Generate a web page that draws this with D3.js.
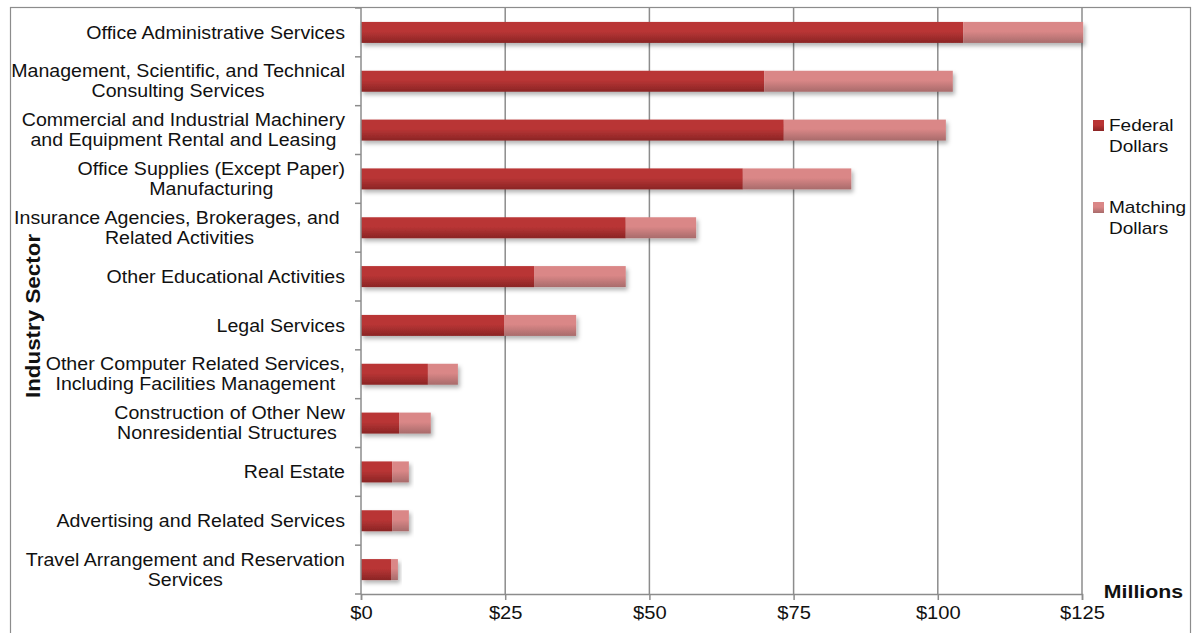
<!DOCTYPE html>
<html>
<head>
<meta charset="utf-8">
<script src="https://cdn.jsdelivr.net/npm/d3@7"></script>
<style>
  body { margin: 0; background: #fff; }
  text { font-family: "Liberation Sans", Arial, sans-serif; fill: #111; }
</style>
</head>
<body>
<div id="chart"></div>
<script>
// data (millions of dollars)
let sectors = [
    ["Office Administrative Services"],
    ["Management, Scientific, and Technical", "Consulting Services"],
    ["Commercial and Industrial Machinery", "and Equipment Rental and Leasing"],
    ["Office Supplies (Except Paper)", "Manufacturing"],
    ["Insurance Agencies, Brokerages, and ", "Related Activities"],
    ["Other Educational Activities"],
    ["Legal Services"],
    ["Other Computer Related Services,", "Including Facilities Management"],
    ["Construction of Other New", "Nonresidential Structures "],
    ["Real Estate"],
    ["Advertising and Related Services"],
    ["Travel Arrangement and Reservation", "Services"]
];
let federal = [104.4, 69.9, 73.3, 66.2, 45.9, 30.0, 24.8, 11.6, 6.6, 5.4, 5.4, 5.2];
let matching = [20.8, 32.7, 28.1, 18.8, 12.2, 15.9, 12.5, 5.2, 5.5, 2.9, 2.9, 1.2];
let xTicks = [0, 25, 50, 75, 100, 125];
let seriesNames = [["Federal", "Dollars"], ["Matching", "Dollars"]];

let W = 1193, H = 633;
let margin = {top: 8, left: 361, right: 111, bottom: 39};
let width = W - margin.left - margin.right,
    height = H - margin.top - margin.bottom;
let stretch = 1.12; // reference text is a bit wider than Arial

let svg = d3.select("#chart").append("svg")
    .attr("width", W)
    .attr("height", H);

// gradients and shadow
let defs = svg.append("defs");
function grad(id, top, bottom) {
    let g = defs.append("linearGradient").attr("id", id)
        .attr("x1", 0).attr("y1", 0).attr("x2", 0).attr("y2", 1);
    g.append("stop").attr("offset", "0%").attr("stop-color", top);
    g.append("stop").attr("offset", "45%").attr("stop-color", top);
    g.append("stop").attr("offset", "100%").attr("stop-color", bottom);
}
grad("gFed", "#b93535", "#8a2525");
grad("gMatch", "#da8787", "#a86b6b");
let f = defs.append("filter").attr("id", "shadow")
    .attr("x", "-5%").attr("y", "-20%").attr("width", "115%").attr("height", "160%");
f.append("feDropShadow").attr("dx", 2).attr("dy", 3).attr("stdDeviation", 2)
    .attr("flood-color", "#000").attr("flood-opacity", 0.3);

// outer frame
svg.append("rect")
    .attr("x", 10.5).attr("y", 7.5)
    .attr("width", 1180).attr("height", 640)
    .attr("fill", "none").attr("stroke", "#8c8c8c").attr("stroke-width", 1.2);

let g = svg.append("g")
    .attr("transform", "translate(" + margin.left + "," + margin.top + ")");

let x = d3.scaleLinear().domain([0, 125]).range([0, width]);
let y = d3.scaleBand().domain(d3.range(sectors.length)).range([0, height]).paddingInner(0.57).paddingOuter(0.285);
let yOuter = d3.scaleBand().domain(d3.range(sectors.length)).range([0, height]);

// gridlines
g.selectAll(".grid")
    .data(xTicks.slice(1))
    .enter().append("line")
    .attr("x1", d => x(d)).attr("x2", d => x(d))
    .attr("y1", 0).attr("y2", height)
    .attr("stroke", "#8c8c8c").attr("stroke-width", 1.5);

// bars
let bars = g.selectAll(".row")
    .data(sectors.map((s, i) => ({i: i, fed: federal[i], match: matching[i]})))
    .enter().append("g")
    .attr("filter", "url(#shadow)");

bars.append("rect")
    .attr("x", x(0))
    .attr("y", d => y(d.i))
    .attr("width", d => x(d.fed) - x(0))
    .attr("height", y.bandwidth())
    .attr("fill", "url(#gFed)");

bars.append("rect")
    .attr("x", d => x(d.fed))
    .attr("y", d => y(d.i))
    .attr("width", d => x(d.fed + d.match) - x(d.fed))
    .attr("height", y.bandwidth())
    .attr("fill", "url(#gMatch)");

// y axis line + ticks at band edges
g.append("line")
    .attr("x1", 0).attr("x2", 0).attr("y1", 0).attr("y2", height)
    .attr("stroke", "#8c8c8c").attr("stroke-width", 1.5);
g.selectAll(".ytick")
    .data(d3.range(sectors.length + 1))
    .enter().append("line")
    .attr("x1", -6).attr("x2", 0)
    .attr("y1", d => d * yOuter.step()).attr("y2", d => d * yOuter.step())
    .attr("stroke", "#8c8c8c").attr("stroke-width", 1.5);

// x axis
let xAxis = g.append("g")
    .attr("transform", "translate(0," + height + ")")
    .call(d3.axisBottom(x).tickValues(xTicks).tickFormat(d => "$" + d).tickSize(6).tickPadding(6));
xAxis.select(".domain").attr("stroke", "#8c8c8c").attr("stroke-width", 1.5);
xAxis.selectAll(".tick line").attr("stroke", "#8c8c8c").attr("stroke-width", 1.5);
xAxis.selectAll(".tick text")
    .attr("font-family", "Liberation Sans, Arial, sans-serif")
    .attr("font-size", 18).attr("fill", "#111")
    .attr("transform", "scale(" + stretch + ",1)");

// category labels: lines centred on each other, block right-aligned to the axis
let labels = g.selectAll(".cat")
    .data(sectors)
    .enter().append("text")
    .attr("text-anchor", "middle")
    .attr("font-size", 17.5)
    .style("white-space", "pre")
    .attr("transform", (d, i) => "translate(-16," + (yOuter(i) + yOuter.bandwidth() / 2) + ") scale(" + stretch + ",1)");
labels.selectAll("tspan")
    .data(d => d.map((t, k) => ({t: t, k: k, n: d.length})))
    .enter().append("tspan")
    .attr("y", d => (d.k - (d.n - 1) / 2) * 20)
    .attr("dy", "0.35em")
    .text(d => d.t);
labels.each(function() {
    let spans = d3.select(this).selectAll("tspan");
    let maxW = d3.max(spans.nodes(), n => n.getComputedTextLength());
    spans.attr("x", -maxW / 2);
});

// axis titles
svg.append("text")
    .attr("transform", "translate(40," + 316 + ") rotate(-90) scale(" + stretch + ",1)")
    .attr("text-anchor", "middle")
    .attr("font-size", 20).attr("font-weight", "bold")
    .text("Industry Sector");

svg.append("text")
    .attr("transform", "translate(1183,598) scale(" + stretch + ",1)")
    .attr("text-anchor", "end")
    .attr("font-size", 19).attr("font-weight", "bold")
    .text("Millions");

// legend
let legend = svg.selectAll(".legend")
    .data(seriesNames)
    .enter().append("g")
    .attr("transform", (d, i) => "translate(1093," + (125 + i * 82) + ")");
legend.append("rect")
    .attr("x", 0).attr("y", -5)
    .attr("width", 11).attr("height", 11)
    .attr("fill", (d, i) => i === 0 ? "url(#gFed)" : "url(#gMatch)");
legend.append("text")
    .attr("transform", "translate(16,0) scale(" + stretch + ",1)")
    .attr("font-size", 17)
    .selectAll("tspan")
    .data(d => d)
    .enter().append("tspan")
    .attr("x", 0)
    .attr("y", (d, k) => k * 21)
    .attr("dy", "0.35em")
    .text(d => d);
</script>
</body>
</html>
